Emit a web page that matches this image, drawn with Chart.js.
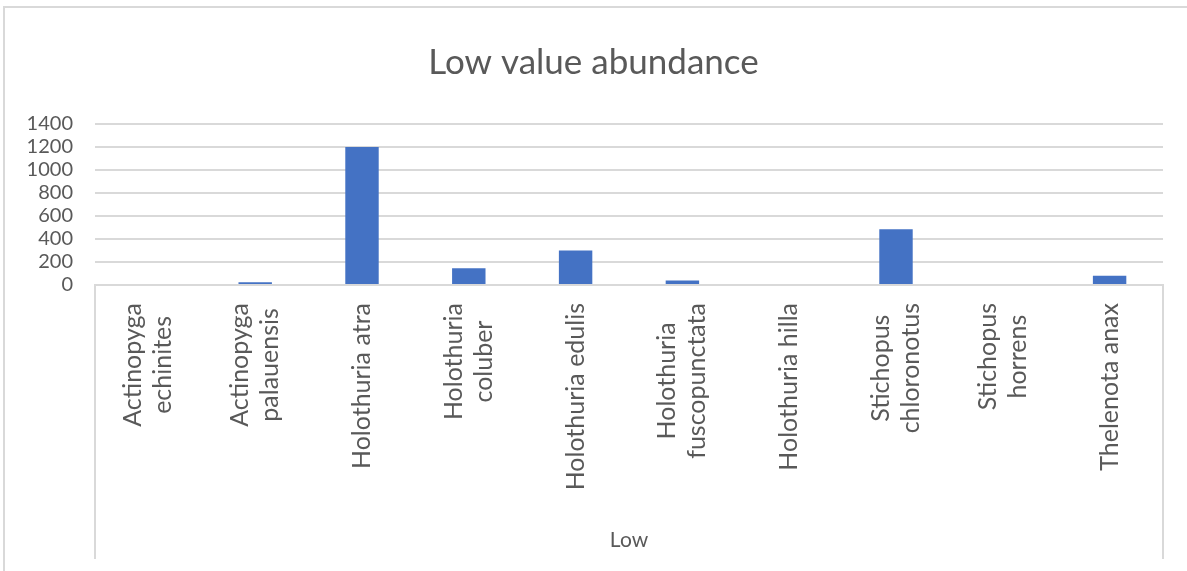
<!DOCTYPE html>
<html>
<head>
<meta charset="utf-8">
<script src="https://cdn.jsdelivr.net/npm/chart.js"></script>
<style>
  html, body { margin: 0; padding: 0; background: #fff; overflow: hidden; }
  #frame { position: absolute; left: 3px; top: 6px; width: 1300px; height: 700px; border: 2px solid #d9d9d9; }
  #wrap { position: absolute; left: 0; top: 0; width: 1187px; height: 571px; }
</style>
</head>
<body>
<div id="frame"></div>
<div id="wrap"><canvas id="myChart"></canvas></div>
<script>
// chart data
const speciesNames = [
    ['Actinopyga', 'echinites'],
    ['Actinopyga', 'palauensis'],
    ['Holothuria atra'],
    ['Holothuria', 'coluber'],
    ['Holothuria edulis'],
    ['Holothuria', 'fuscopunctata'],
    ['Holothuria hilla'],
    ['Stichopus', 'chloronotus'],
    ['Stichopus', 'horrens'],
    ['Thelenota anax']
];
const lowValues = [0, 25, 1200, 145, 300, 40, 0, 485, 0, 80];
const yTickValues = [0, 200, 400, 600, 800, 1000, 1200, 1400];
const groupName = 'Low';
const chartTitle = 'Low value abundance';

const textGrey = '#595959';
const lineGrey = '#d9d9d9';
const barBlue = '#4472c4';

Chart.defaults.font.family = 'Lato';
Chart.defaults.color = textGrey;

// Excel style rotated category labels (lines centred on each other) + group borders
const categoryLabels = {
    id: 'categoryLabels',
    afterDraw(chart) {
        const ctx = chart.ctx;
        const area = chart.chartArea;
        const xScale = chart.scales.x;
        ctx.save();
        ctx.fillStyle = textGrey;
        ctx.font = '25px Lato';
        ctx.textAlign = 'center';
        ctx.textBaseline = 'middle';
        speciesNames.forEach((lines, i) => {
            const px = xScale.getPixelForValue(i);
            const widest = Math.max(...lines.map(l => ctx.measureText(l).width));
            const cy = area.bottom + 18 + widest / 2;
            lines.forEach((line, j) => {
                const lx = px + (j - (lines.length - 1) / 2) * 30;
                ctx.save();
                ctx.translate(lx, cy);
                ctx.rotate(-Math.PI / 2);
                ctx.fillText(line, 0, 0);
                ctx.restore();
            });
        });
        ctx.strokeStyle = lineGrey;
        ctx.lineWidth = 2;
        [xScale.left, xScale.right].forEach(gx => {
            ctx.beginPath();
            ctx.moveTo(gx, area.bottom);
            ctx.lineTo(gx, area.bottom + 274);
            ctx.stroke();
        });
        ctx.restore();
    }
};

const ctx = document.getElementById('myChart');
new Chart(ctx, {
    type: 'bar',
    data: {
        labels: speciesNames.map(n => n.join(' ')),
        datasets: [{
            label: groupName,
            data: lowValues,
            backgroundColor: barBlue,
            borderWidth: 0,
            categoryPercentage: 1,
            barPercentage: 0.313
        }]
    },
    options: {
        responsive: true,
        maintainAspectRatio: false,
        animation: false,
        layout: { padding: { left: 24, right: 24, top: 0, bottom: 0 } },
        plugins: {
            legend: { display: false },
            tooltip: { enabled: false },
            title: {
                display: true,
                text: chartTitle,
                color: textGrey,
                font: { size: 35, weight: 'normal' },
                padding: { top: 42, bottom: 40 }
            }
        },
        scales: {
            x: {
                grid: { display: false },
                border: { display: true, color: lineGrey, width: 2 },
                ticks: { display: false },
                title: {
                    display: true,
                    text: groupName,
                    color: textGrey,
                    font: { size: 21 },
                    padding: { top: 0, bottom: 18 }
                },
                afterFit: scale => { scale.height = 286; }
            },
            y: {
                min: 0,
                max: 1400,
                afterBuildTicks: scale => { scale.ticks = yTickValues.map(v => ({ value: v })); },
                afterFit: scale => { scale.width = 71; },
                grid: { color: lineGrey, lineWidth: 2, drawTicks: false },
                border: { display: false },
                ticks: {
                    color: textGrey,
                    font: { size: 20 },
                    padding: 22,
                    autoSkip: false,
                    callback: v => String(v)
                }
            }
        }
    },
    plugins: [categoryLabels]
});
</script>
</body>
</html>
